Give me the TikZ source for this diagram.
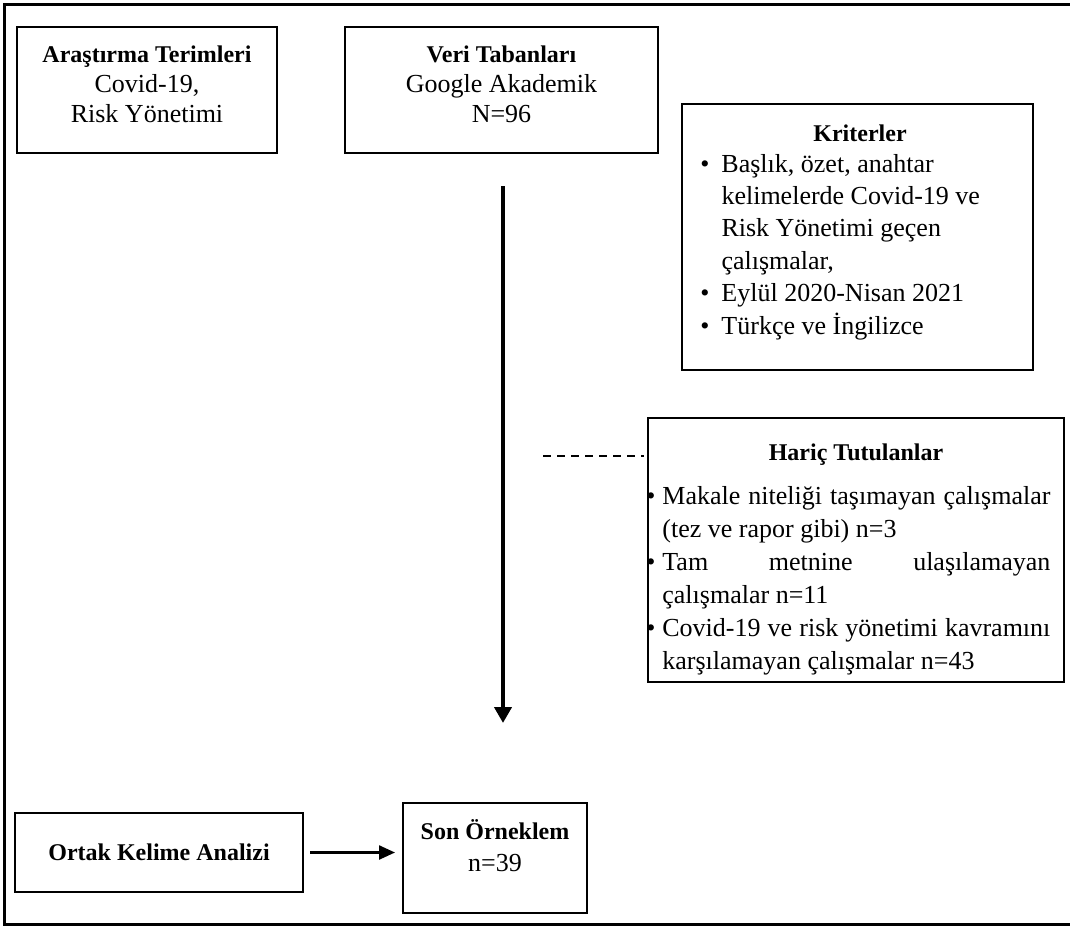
\documentclass[tikz,border=0pt]{standalone}
\usepackage{fontspec}
\setmainfont{Liberation Serif}
\usetikzlibrary{arrows.meta}
\newcommand{\boxtitle}[1]{{\fontsize{12}{15}\selectfont\bfseries #1}}
\newcommand{\itembullet}{\leavevmode\llap{\textbullet\hspace{3.5pt}}}

\begin{document}
\begin{tikzpicture}[x=0.5pt, y=-0.5pt,
  box/.style={draw, line width=1pt, inner sep=0pt},
  txt/.style={inner sep=0pt, align=flush center, font=\fontsize{13}{15}\selectfont},
  lst/.style={inner sep=0pt, font=\fontsize{13}{16.5}\selectfont},
  flow/.style={line width=2pt, -{Triangle[length=8pt, width=8.5pt]}}]
  \useasboundingbox (0,0) rectangle (1070,926);
  \draw[line width=1.5pt] (4,4.5) rectangle (1090,924.5);

  % top row
  \node[box, minimum width=130pt, minimum height=63pt] (terms) at (147,90) {};
  \node[txt, text width=125pt, anchor=base] (termstext) at (147,62)
    {\boxtitle{Araştırma Terimleri}\\Covid-19,\\Risk Yönetimi};
  \node[box, minimum width=156.5pt, minimum height=63pt] (dbase) at (501.5,90) {};
  \node[txt, text width=150pt, anchor=base] (dbasetext) at (501.5,62)
    {\boxtitle{Veri Tabanları}\\Google Akademik\\N=96};

  % criteria
  \node[box, minimum width=175.5pt, minimum height=133pt] (crit) at (857.5,237) {};
  \node[txt, anchor=base] (crittitle) at (860,141) {\boxtitle{Kriterler}};
  \node[lst, anchor=base west, font=\fontsize{13}{16.2}\selectfont] (critlist) at (700,172) {%
    \begin{tabular}[t]{@{}l@{\hspace{6pt}}l@{}}
      \textbullet & Başlık, özet, anahtar\\
                  & kelimelerde Covid-19 ve\\
                  & Risk Yönetimi geçen\\
                  & çalışmalar,\\
      \textbullet & Eylül 2020-Nisan 2021\\
      \textbullet & Türkçe ve İngilizce
    \end{tabular}};

  % excluded
  \node[box, minimum width=208pt, minimum height=132pt] (excl) at (856,550) {};
  \node[txt, anchor=base] (excltitle) at (856,460) {\boxtitle{Hariç Tutulanlar}};
  \begin{scope}
    \clip (excl.north west) rectangle (excl.south east);
    \node[lst, text width=194pt, align=justify, anchor=base west] (excllist) at (662,504) {%
      \itembullet Makale niteliği taşımayan çalışmalar\linebreak (tez ve rapor gibi) n=3\par
      \itembullet Tam metnine ulaşılamayan\linebreak çalışmalar n=11\par
      \itembullet Covid-19 ve risk yönetimi kavramını\linebreak karşılamayan çalışmalar n=43};
  \end{scope}
  \coordinate (cutstart) at (543,456);
  \draw[line width=0.6pt, dash pattern=on 4pt off 3pt, shorten >=1.5pt] (cutstart) -- (cutstart -| excl.west);

  % bottom row
  \node[box, minimum width=144pt, minimum height=39.5pt, font=\fontsize{12}{15}\selectfont\bfseries] (cooc) at (159,852.5) {Ortak Kelime Analizi};
  \node[box, minimum width=92pt, minimum height=55pt] (final) at (495,858) {};
  \node[txt, text width=88pt, anchor=base, font=\fontsize{13}{16}\selectfont] (finaltext) at (495,839)
    {\boxtitle{Son Örneklem}\\n=39};

  % arrows
  \coordinate (flowtop) at (503,186);
  \coordinate (flowend) at (503,723);
  \draw[flow] (flowtop) -- (flowend);
  \draw[line width=1.2pt, -{Triangle[length=8pt, width=7pt]}, shorten <=3pt, shorten >=3.5pt]
    (cooc.east) -- (cooc.east -| final.west);
\end{tikzpicture}
\end{document}
